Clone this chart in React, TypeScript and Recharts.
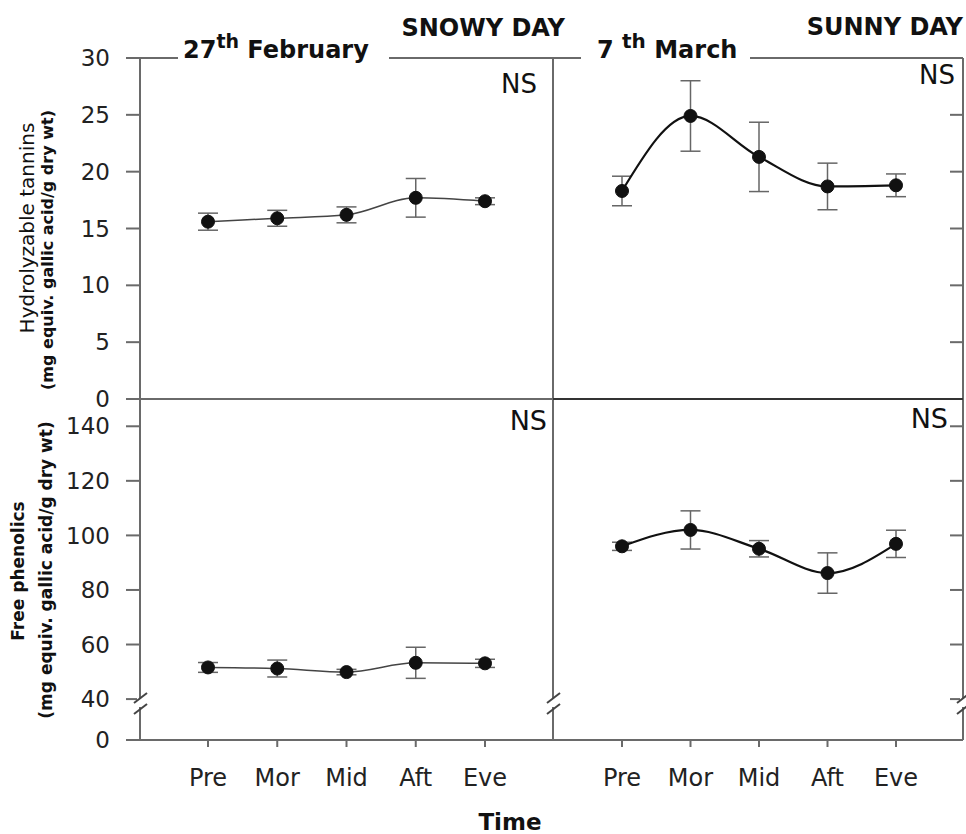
import React from 'react';
import { LineChart, Line, XAxis, YAxis, ErrorBar } from 'recharts';

// sampling times
const timePoints = ['Pre', 'Mor', 'Mid', 'Aft', 'Eve'];

// hydrolyzable tannins (mg equiv. gallic acid / g dry wt)
const tanninSnowy = [15.6, 15.9, 16.2, 17.7, 17.4];
const tanninSnowyErr = [0.75, 0.7, 0.7, 1.7, 0.3];
const tanninSunny = [18.3, 24.9, 21.3, 18.7, 18.8];
const tanninSunnyErr = [1.3, 3.1, 3.05, 2.05, 1.0];

// free phenolics (mg equiv. gallic acid / g dry wt)
const phenolSnowy = [51.6, 51.2, 49.9, 53.3, 53.1];
const phenolSnowyErr = [1.8, 3.1, 1.0, 5.7, 1.5];
const phenolSunny = [96.0, 102.0, 95.1, 86.2, 96.9];
const phenolSunnyErr = [1.5, 7.0, 3.0, 7.4, 5.0];

const tanninTicks = [0, 5, 10, 15, 20, 25, 30];
const phenolTicks = [0, 40, 60, 80, 100, 120, 140];

// broken axis: 0..40 squeezed into GAP units
const BREAK_LOW = 40;
const GAP = 15;
const toAxis = (v: number) => (v <= 0 ? 0 : v - BREAK_LOW + GAP);
const fromAxis = (t: number) => (t === 0 ? 0 : t - GAP + BREAK_LOW);

const build = (vals: number[], errs: number[]) =>
  timePoints.map((t, i) => ({ time: t, value: vals[i], err: errs[i] }));

const W = 966;
const H = 834;
const FONT = 'DejaVu Sans';
const AXIS = '#6a6a6a';

const yTick = { fill: '#222', fontSize: 23, fontFamily: FONT };
const xTick = { fill: '#222', fontSize: 24, fontFamily: FONT };

interface PanelProps {
  data: { time: string; value: number; err: number }[];
  bottom: boolean;
  right: boolean;
  dark: boolean;
}

const Panel: React.FC<PanelProps> = ({ data, bottom, right, dark }) => {
  const margin = {
    top: bottom ? 399 : 58,
    bottom: bottom ? 34 : 435,
    left: right ? 553 : 60,
    right: right ? 3 : 413,
  };
  const yProps = bottom
    ? {
        domain: [0, toAxis(150)] as [number, number],
        ticks: phenolTicks.map(toAxis),
        tickFormatter: (t: number) => String(fromAxis(t)),
      }
    : { domain: [0, 30] as [number, number], ticks: tanninTicks };
  return (
    <div style={{ position: 'absolute', left: 0, top: 0 }}>
      <LineChart width={W} height={H} data={data} margin={margin}>
        <XAxis
          dataKey="time"
          scale="point"
          hide={!bottom}
          height={60}
          padding={right ? { left: 69, right: 67 } : { left: 68, right: 68 }}
          tickSize={7}
          tickMargin={22}
          tick={xTick}
          axisLine={{ stroke: AXIS, strokeWidth: 2 }}
          tickLine={{ stroke: AXIS, strokeWidth: 2 }}
        />
        {right ? (
          <YAxis
            orientation="right"
            mirror
            width={1}
            {...yProps}
            interval={0}
            tick={() => <g />}
            tickSize={13}
            axisLine={{ stroke: AXIS, strokeWidth: 2 }}
            tickLine={{ stroke: AXIS, strokeWidth: 2 }}
            allowDataOverflow
          />
        ) : (
          <YAxis
            width={80}
            {...yProps}
            interval={0}
            tick={yTick}
            tickSize={14}
            tickMargin={16}
            axisLine={{ stroke: AXIS, strokeWidth: 2 }}
            tickLine={{ stroke: AXIS, strokeWidth: 2 }}
            allowDataOverflow
          />
        )}
        <Line
          type="monotone"
          dataKey={bottom ? (d: any) => toAxis(d.value) : 'value'}
          stroke={dark ? '#111' : '#444'}
          strokeWidth={dark ? 2.2 : 1.5}
          dot={{ r: 6.5, fill: '#111', stroke: '#111', strokeWidth: 1 }}
          isAnimationActive={false}
        >
          <ErrorBar dataKey="err" width={10} stroke="#666" strokeWidth={1.5} direction="y" />
        </Line>
      </LineChart>
    </div>
  );
};

const BreakMark: React.FC<{ x: number }> = ({ x }) => (
  <g>
    <rect x={x - 3} y={698} width={6} height={9} fill="#fff" />
    <line x1={x - 6} y1={703} x2={x + 7} y2={693} stroke="#444" strokeWidth={2} />
    <line x1={x - 6} y1={714} x2={x + 7} y2={704} stroke="#444" strokeWidth={2} />
  </g>
);

const Overlay: React.FC = () => (
  <svg
    width={W}
    height={H}
    style={{ position: 'absolute', left: 0, top: 0, pointerEvents: 'none' }}
    fontFamily={FONT}
  >
    {/* top frame with gaps for the date titles */}
    <line x1={140} y1={58} x2={178} y2={58} stroke={AXIS} strokeWidth={2} />
    <line x1={389} y1={58} x2={581} y2={58} stroke={AXIS} strokeWidth={2} />
    <line x1={750} y1={58} x2={963} y2={58} stroke={AXIS} strokeWidth={2} />
    {/* panel dividers */}
    <line x1={553} y1={58} x2={553} y2={740} stroke={AXIS} strokeWidth={2} />
    <line x1={140} y1={399} x2={553} y2={399} stroke={AXIS} strokeWidth={2} />
    <line x1={553} y1={399} x2={963} y2={399} stroke="#333" strokeWidth={2} />

    <BreakMark x={140} />
    <BreakMark x={553} />
    <BreakMark x={963} />

    <text x={183} y={58} fontSize={24} fontWeight="bold" fill="#111">
      27<tspan dy={-10} fontSize={19}>th</tspan>
      <tspan dy={10} fontSize={24}> February</tspan>
    </text>
    <text x={565} y={36} fontSize={24} fontWeight="bold" fill="#111" textAnchor="end">
      SNOWY DAY
    </text>
    <text x={597} y={58} fontSize={24} fontWeight="bold" fill="#111">
      7 <tspan dy={-10} fontSize={20}>th</tspan>
      <tspan dy={10} fontSize={24}> March</tspan>
    </text>
    <text x={963} y={35} fontSize={24} fontWeight="bold" fill="#111" textAnchor="end">
      SUNNY DAY
    </text>

    <text x={537} y={93} fontSize={26} fill="#111" textAnchor="end">NS</text>
    <text x={955} y={84} fontSize={26} fill="#111" textAnchor="end">NS</text>
    <text x={547} y={430} fontSize={27} fill="#111" textAnchor="end">NS</text>
    <text x={948} y={428} fontSize={27} fill="#111" textAnchor="end">NS</text>

    <text
      transform="translate(27,228) rotate(-90)"
      textAnchor="middle"
      dominantBaseline="central"
      fontSize={20}
      fill="#111"
    >
      Hydrolyzable tannins
    </text>
    <text
      transform="translate(47,250) rotate(-90)"
      textAnchor="middle"
      dominantBaseline="central"
      fontSize={16}
      fontWeight="bold"
      fill="#111"
    >
      (mg equiv. gallic acid/g dry wt)
    </text>
    <text
      transform="translate(18,571) rotate(-90)"
      textAnchor="middle"
      dominantBaseline="central"
      fontSize={17}
      fontWeight="bold"
      fill="#111"
    >
      Free phenolics
    </text>
    <text
      transform="translate(46,570) rotate(-90)"
      textAnchor="middle"
      dominantBaseline="central"
      fontSize={17}
      fontWeight="bold"
      fill="#111"
    >
      (mg equiv. gallic acid/g dry wt)
    </text>

    <text x={510} y={830} fontSize={23} fontWeight="bold" fill="#111" textAnchor="middle">
      Time
    </text>
  </svg>
);

export default function App() {
  return (
    <div
      style={{
        position: 'absolute',
        left: 0,
        top: 0,
        width: W,
        height: H,
        background: '#fff',
        fontFamily: FONT,
      }}
    >
      <Panel data={build(tanninSnowy, tanninSnowyErr)} bottom={false} right={false} dark={false} />
      <Panel data={build(tanninSunny, tanninSunnyErr)} bottom={false} right dark />
      <Panel data={build(phenolSnowy, phenolSnowyErr)} bottom right={false} dark={false} />
      <Panel data={build(phenolSunny, phenolSunnyErr)} bottom right dark />
      <Overlay />
    </div>
  );
}
